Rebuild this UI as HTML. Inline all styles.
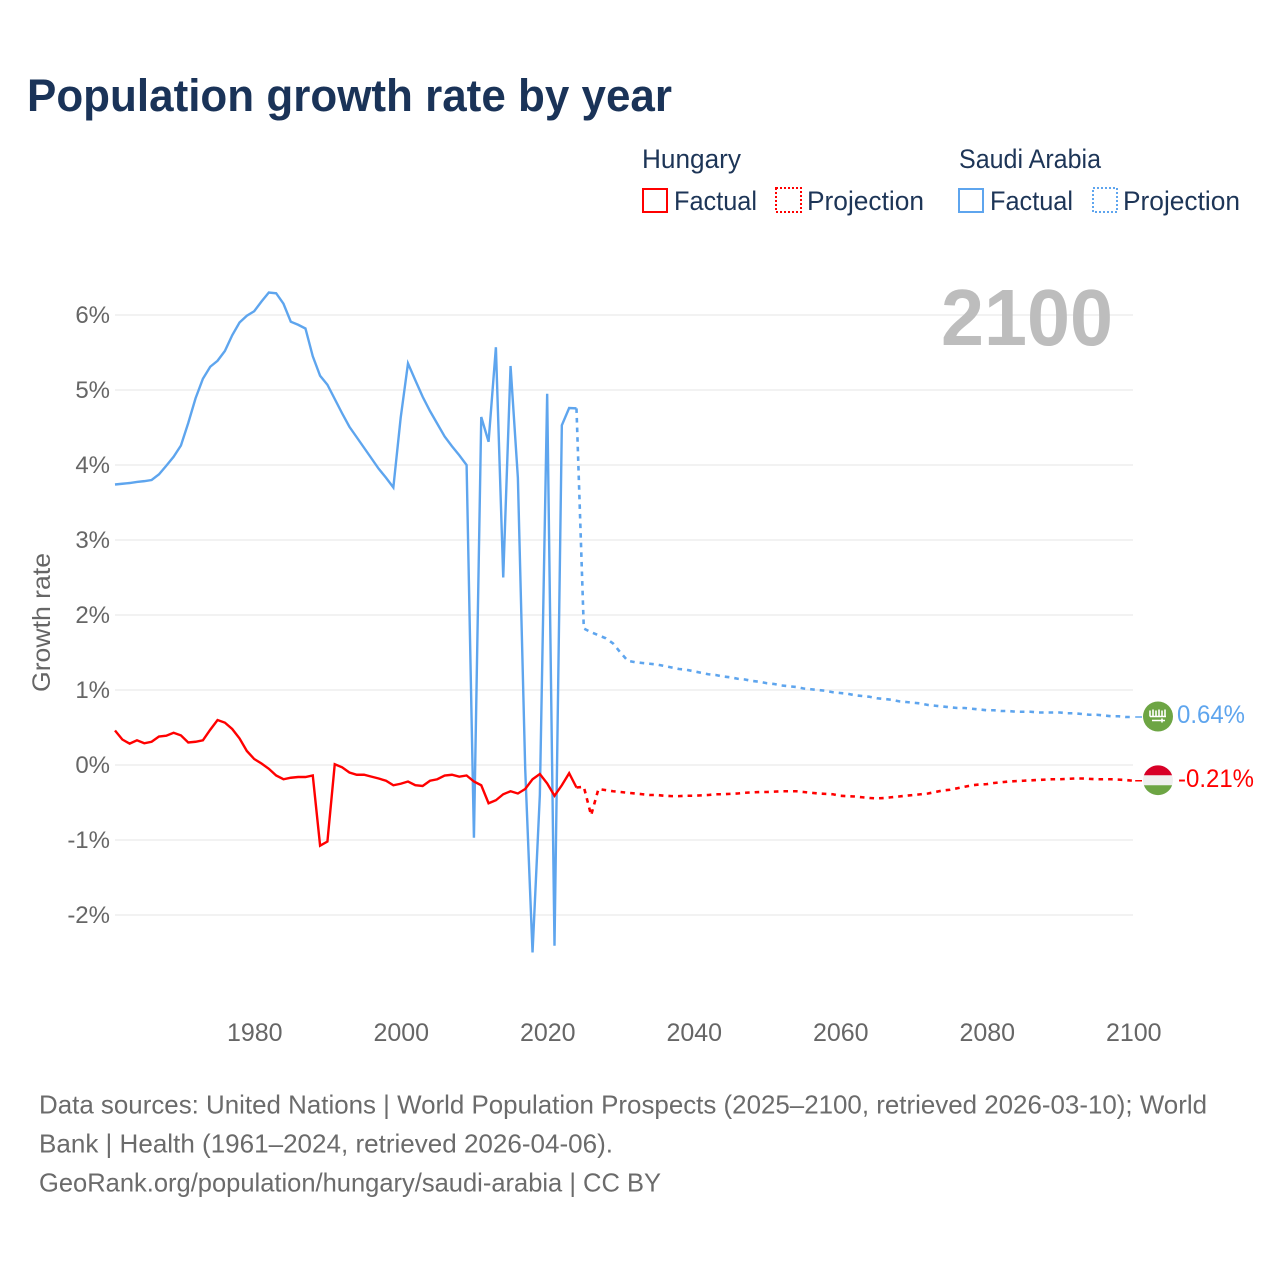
<!DOCTYPE html>
<html lang="en">
<head>
<meta charset="utf-8">
<title>Population growth rate by year</title>
<style>
html,body{margin:0;padding:0;background:#fff;}
body{width:1280px;height:1280px;overflow:hidden;}
svg{display:block;font-family:"Liberation Sans",sans-serif;}
</style>
</head>
<body>
<svg id="chart" width="1280" height="1280" viewBox="0 0 1280 1280" xmlns="http://www.w3.org/2000/svg">
  <rect x="0" y="0" width="1280" height="1280" fill="#ffffff"/>
  <text x="27" y="111" font-size="45" font-weight="700" fill="#1a3358" textLength="645" lengthAdjust="spacingAndGlyphs">Population growth rate by year</text>

  <g font-size="27" fill="#1d3557">
    <text x="642" y="168" textLength="99" lengthAdjust="spacingAndGlyphs">Hungary</text>
    <text x="959" y="168" textLength="142" lengthAdjust="spacingAndGlyphs">Saudi Arabia</text>
    <rect x="643" y="189" width="24" height="23" fill="none" stroke="#ff0000" stroke-width="2"/>
    <text x="674" y="210" textLength="83" lengthAdjust="spacingAndGlyphs">Factual</text>
    <rect x="776" y="188" width="25" height="24" fill="none" stroke="#ff0000" stroke-width="2" stroke-dasharray="2 2"/>
    <text x="807" y="210" textLength="117" lengthAdjust="spacingAndGlyphs">Projection</text>
    <rect x="959" y="189" width="24" height="23" fill="none" stroke="#5ea5ee" stroke-width="2"/>
    <text x="990" y="210" textLength="83" lengthAdjust="spacingAndGlyphs">Factual</text>
    <rect x="1093" y="188" width="24" height="24" fill="none" stroke="#5ea5ee" stroke-width="2" stroke-dasharray="2 2"/>
    <text x="1123" y="210" textLength="117" lengthAdjust="spacingAndGlyphs">Projection</text>
  </g>

  <g id="grid"></g>
  <g id="yticks" font-size="24" fill="#666666" text-anchor="end"></g>
  <g id="xticks" font-size="25" fill="#666666" text-anchor="middle"></g>
  <text transform="translate(50,692) rotate(-90)" font-size="25" fill="#666666" textLength="139" lengthAdjust="spacingAndGlyphs">Growth rate</text>
  <text x="941" y="345" font-size="80" font-weight="700" fill="#bdbdbd" textLength="172" lengthAdjust="spacingAndGlyphs">2100</text>

  <g id="series"></g>
  <g id="ends"></g>

  <g font-size="26" fill="#6b6b6b">
    <text x="39" y="1113.5" textLength="1168" lengthAdjust="spacingAndGlyphs">Data sources: United Nations | World Population Prospects (2025–2100, retrieved 2026-03-10); World</text>
    <text x="39" y="1152.5" textLength="574" lengthAdjust="spacingAndGlyphs">Bank | Health (1961–2024, retrieved 2026-04-06).</text>
    <text x="39" y="1191.5" textLength="622" lengthAdjust="spacingAndGlyphs">GeoRank.org/population/hungary/saudi-arabia | CC BY</text>
  </g>
</svg>
<script>
const xTickYears = [1980, 2000, 2020, 2040, 2060, 2080, 2100];
const yTickValues = [6, 5, 4, 3, 2, 1, 0, -1, -2];
const factualStartYear = 1961;
const projectionStartYear = 2024;

const saudiFactual = [3.74,3.75,3.76,3.775,3.785,3.80,3.875,3.99,4.11,4.26,4.56,4.89,5.15,5.31,5.39,5.52,5.73,5.90,5.99,6.05,6.18,6.30,6.29,6.15,5.91,5.87,5.82,5.45,5.19,5.07,4.88,4.69,4.51,4.37,4.23,4.09,3.95,3.83,3.70,4.63,5.355,5.13,4.91,4.72,4.55,4.38,4.25,4.13,4.00,-0.97,4.64,4.31,5.57,2.50,5.32,3.83,-0.05,-2.50,-0.40,4.95,-2.41,4.53,4.76,4.755];
const saudiProjection = [4.755,1.82,1.77,1.73,1.69,1.62,1.50,1.39,1.37,1.36,1.35,1.34,1.32,1.30,1.28,1.27,1.25,1.23,1.21,1.20,1.18,1.17,1.15,1.14,1.12,1.11,1.09,1.08,1.06,1.05,1.04,1.02,1.01,1.00,0.99,0.97,0.96,0.95,0.93,0.92,0.91,0.89,0.88,0.87,0.85,0.84,0.83,0.82,0.80,0.79,0.78,0.77,0.76,0.76,0.75,0.74,0.73,0.73,0.72,0.72,0.71,0.71,0.71,0.70,0.70,0.70,0.70,0.69,0.69,0.68,0.67,0.67,0.66,0.65,0.65,0.64,0.64];
const hungaryFactual = [0.46,0.34,0.285,0.33,0.29,0.31,0.38,0.39,0.43,0.395,0.30,0.31,0.33,0.47,0.60,0.565,0.48,0.355,0.187,0.08,0.02,-0.05,-0.14,-0.19,-0.17,-0.16,-0.16,-0.14,-1.075,-1.02,0.01,-0.03,-0.10,-0.13,-0.13,-0.155,-0.18,-0.21,-0.27,-0.25,-0.22,-0.27,-0.28,-0.21,-0.19,-0.14,-0.13,-0.155,-0.14,-0.22,-0.27,-0.51,-0.47,-0.39,-0.35,-0.38,-0.32,-0.19,-0.12,-0.245,-0.41,-0.27,-0.11,-0.30];
const hungaryProjection = [-0.30,-0.29,-0.67,-0.32,-0.335,-0.35,-0.36,-0.37,-0.38,-0.39,-0.40,-0.40,-0.41,-0.415,-0.415,-0.41,-0.41,-0.405,-0.40,-0.39,-0.39,-0.385,-0.38,-0.37,-0.365,-0.36,-0.36,-0.355,-0.35,-0.35,-0.35,-0.36,-0.37,-0.38,-0.385,-0.39,-0.41,-0.415,-0.42,-0.43,-0.44,-0.445,-0.44,-0.43,-0.42,-0.41,-0.40,-0.39,-0.38,-0.36,-0.34,-0.33,-0.31,-0.29,-0.27,-0.26,-0.255,-0.24,-0.23,-0.22,-0.215,-0.21,-0.205,-0.20,-0.195,-0.19,-0.19,-0.185,-0.18,-0.18,-0.185,-0.19,-0.19,-0.19,-0.195,-0.20,-0.21];

const NS = 'http://www.w3.org/2000/svg';
const BLUE = '#5ea5ee';
const RED = '#ff0000';

function xScale(year) { return 115 + (year - 1961) * 7.325; }
function yScale(value) { return 765 - value * 75; }
function make(tag, attrs, parent) {
  const el = document.createElementNS(NS, tag);
  for (const k in attrs) el.setAttribute(k, attrs[k]);
  parent.appendChild(el);
  return el;
}
function linePoints(values, startYear) {
  return values.map(function (v, i) {
    return xScale(startYear + i).toFixed(2) + ',' + yScale(v).toFixed(2);
  }).join(' ');
}

const gridG = document.getElementById('grid');
const yG = document.getElementById('yticks');
const xG = document.getElementById('xticks');
const seriesG = document.getElementById('series');
const endsG = document.getElementById('ends');

yTickValues.forEach(function (v) {
  const gl = make('line', {x1: 115, x2: 1133, y1: yScale(v), y2: yScale(v), stroke: '#eeeeee', 'stroke-width': 1.5}, gridG);
  
  
  const t = make('text', {x: 110, y: yScale(v) + 8}, yG);
  t.textContent = v + '%';
  
  
});

xTickYears.forEach(function (yr) {
  const t = make('text', {x: xScale(yr) + 0.6, y: 1041}, xG);
  t.textContent = String(yr);
  
  
});

const l1 = make('polyline', {points: linePoints(saudiFactual, factualStartYear), fill: 'none', stroke: BLUE, 'stroke-width': 2.4}, seriesG);


const l2 = make('polyline', {points: linePoints(saudiProjection, projectionStartYear), fill: 'none', stroke: BLUE, 'stroke-width': 2.6, 'stroke-dasharray': '4.6 5'}, seriesG);


const l3 = make('polyline', {points: linePoints(hungaryFactual, factualStartYear), fill: 'none', stroke: RED, 'stroke-width': 2.4}, seriesG);


const l4 = make('polyline', {points: linePoints(hungaryProjection, projectionStartYear), fill: 'none', stroke: RED, 'stroke-width': 2.6, 'stroke-dasharray': '4.6 5'}, seriesG);



const lastYear = projectionStartYear + saudiProjection.length - 1;
const saudiLast = saudiProjection[saudiProjection.length - 1];
const hungaryLast = hungaryProjection[hungaryProjection.length - 1];
const ySaudi = yScale(saudiLast);
const yHungary = yScale(hungaryLast);
const xEnd = xScale(lastYear);

const lead1 = make('line', {x1: xEnd + 2, x2: 1142, y1: ySaudi, y2: ySaudi, stroke: BLUE, 'stroke-width': 1.5}, endsG);


const lead2 = make('line', {x1: xEnd + 2, x2: 1142, y1: yHungary, y2: yHungary, stroke: RED, 'stroke-width': 1.5}, endsG);



const saudiFlag = make('g', {transform: 'translate(1158,' + (ySaudi - 0.5) + ')'}, endsG);


make('circle', {cx: 0, cy: 0, r: 15, fill: '#6da544'}, saudiFlag);
make('path', {d: 'M-8-6v6M-5-7v7M-2-6v6M1-7v7M4-6v6M7-7v7M-8 0H8M-6 4H7M4 2v4', stroke: '#ffffff', 'stroke-width': 1.6, fill: 'none'}, saudiFlag);

const hungaryFlag = make('g', {transform: 'translate(1158,' + (yHungary - 0.5) + ')'}, endsG);


make('circle', {cx: 0, cy: 0, r: 15, fill: '#f0f0f0'}, hungaryFlag);
make('path', {d: 'M-14.1-5A15 15 0 0 1 14.1-5Z', fill: '#d80027'}, hungaryFlag);
make('path', {d: 'M-14.1 5A15 15 0 0 0 14.1 5Z', fill: '#6da544'}, hungaryFlag);

const saudiText = make('text', {x: 1177, y: ySaudi + 6, 'font-size': 25, fill: BLUE, textLength: 68, lengthAdjust: 'spacingAndGlyphs'}, endsG);
saudiText.textContent = saudiLast.toFixed(2) + '%';


const hungaryText = make('text', {x: 1178, y: yHungary + 6, 'font-size': 25, fill: RED, textLength: 76, lengthAdjust: 'spacingAndGlyphs'}, endsG);
hungaryText.textContent = hungaryLast.toFixed(2) + '%';


</script>
</body>
</html>
